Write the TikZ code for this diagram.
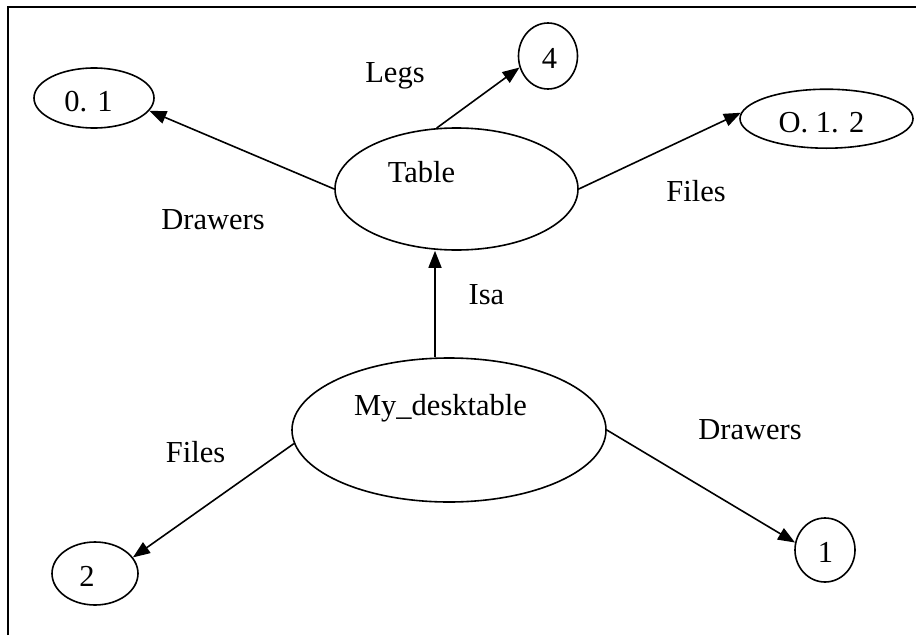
\documentclass[tikz,border=0pt]{standalone}
\usepackage{fontspec}
\setmainfont{Liberation Serif}
\usetikzlibrary{arrows.meta,shapes.geometric}
\begin{document}
\begin{tikzpicture}[x=1pt,y=-1pt,
  every node/.style={font=\fontsize{30.5}{36}\selectfont},
  oval/.style={draw,ellipse,line width=1.6pt,inner sep=0pt},
  txt/.style={inner sep=0pt},
  arr/.style={line width=1.6pt,-{Triangle[length=17pt,width=13pt]}}]
\useasboundingbox (0,0) rectangle (916,635);
\draw[line width=1.6pt] (8,635) -- (8,7) -- (916,7);
% nodes
\node[oval,minimum width=243pt,minimum height=122pt,
      label={[txt,shift={(-35pt,17pt)}]center:Table}] (t) at (456.5,189) {};
\node[oval,minimum width=120pt,minimum height=60pt,
      label={[txt,shift={(-5.5pt,-3.7pt)}]center:0. 1}] (a) at (94,98) {};
\node[oval,minimum width=59pt,minimum height=66pt,
      label={[txt,shift={(1.5pt,-2.7pt)}]center:4}] (f) at (548,56) {};
\node[oval,minimum width=173pt,minimum height=59pt,
      label={[txt,shift={(-5pt,-4pt)}]center:O. 1. 2}] (o) at (826.5,118.7) {};
\node[oval,minimum width=314pt,minimum height=144pt,
      label={[txt,shift={(-8.5pt,22pt)}]center:My\_desktable}] (d) at (449,430) {};
\node[oval,minimum width=86pt,minimum height=63pt,
      label={[txt,shift={(-8pt,-3.2pt)}]center:2}] (two) at (95,573.5) {};
\node[oval,minimum width=60pt,minimum height=64pt,
      label={[txt,shift={(0.5pt,-2.7pt)}]center:1}] (one) at (825,550) {};
% edge labels
\node[txt] (legs) at (395,76) {Legs};
\node[txt] (dr1) at (213,219.6) {Drawers};
\node[txt] (fi1) at (696,191.3) {Files};
\node[txt] (isa) at (486.5,295) {Isa};
\node[txt] (fi2) at (195.5,452.3) {Files};
\node[txt] (dr2) at (750,429.6) {Drawers};
% connectors
\coordinate (ix) at (435,0);
\draw[arr] (t.west) -- (a.-13);
\draw[arr] (t.108) -- (f.202);
\draw[arr] (t.east) -- (o.176);
\draw[arr] (d.north -| ix) -- (t.south -| ix);
\draw[arr] (d.185) -- (two.23);
\draw[arr] (d.east) -- (one.166);
\end{tikzpicture}
\end{document}
